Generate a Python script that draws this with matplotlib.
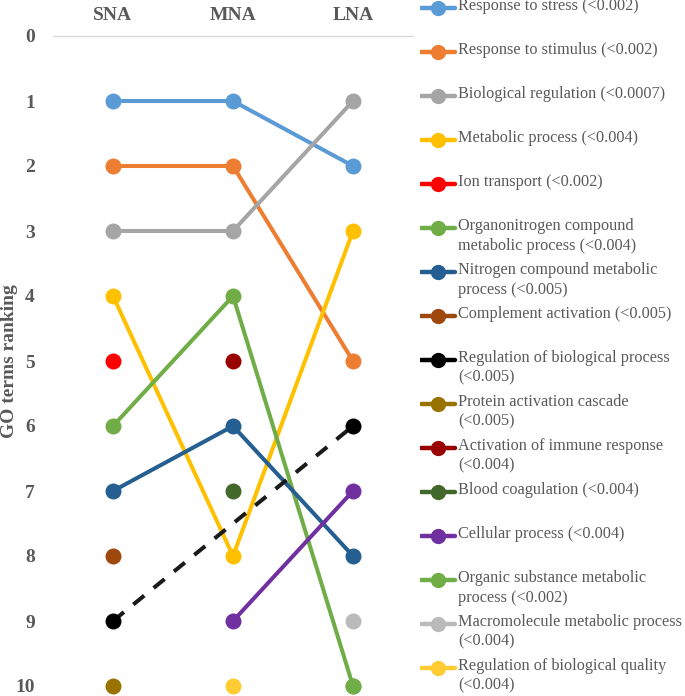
import numpy as np
import matplotlib
matplotlib.use('Agg')
import matplotlib.pyplot as plt

plt.rcParams['font.family'] = ['Liberation Serif', 'DejaVu Serif']

# ============================================
# Data: GO term ranking per group (nan = not ranked)
# ============================================
groups = ['SNA', 'MNA', 'LNA']
nan = np.nan

terms = [
    'Response to stress (<0.002)',
    'Response to stimulus (<0.002)',
    'Biological regulation (<0.0007)',
    'Metabolic process (<0.004)',
    'Ion transport (<0.002)',
    'Organonitrogen compound\nmetabolic process (<0.004)',
    'Nitrogen compound metabolic\nprocess (<0.005)',
    'Complement activation (<0.005)',
    'Regulation of biological process\n(<0.005)',
    'Protein activation cascade\n(<0.005)',
    'Activation of immune response\n(<0.004)',
    'Blood coagulation (<0.004)',
    'Cellular process (<0.004)',
    'Organic substance metabolic\nprocess (<0.002)',
    'Macromolecule metabolic process\n(<0.004)',
    'Regulation of biological quality\n(<0.004)',
]

ranks = [
    [1, 1, 2],
    [2, 2, 5],
    [3, 3, 1],
    [4, 8, 3],
    [5, nan, nan],
    [6, 4, 10],
    [7, 6, 8],
    [8, nan, nan],
    [9, nan, 6],
    [10, nan, nan],
    [nan, 5, nan],
    [nan, 7, nan],
    [nan, 9, 7],
    [nan, nan, 10],
    [nan, nan, 9],
    [nan, 10, nan],
]

colors = ['#5B9BD5', '#ED7D31', '#A5A5A5', '#FFC000', '#FF0000', '#70AD47',
          '#255E91', '#9E480E', '#000000', '#997300', '#990000', '#43682B',
          '#7030A0', '#70AD47', '#BABABA', '#FFCD33']
dashed = [8]

text_color = '#595959'

# ============================================
# Figure
# ============================================
fig = plt.figure(figsize=(6.85, 6.96), dpi=100)
ax = fig.add_axes([53 / 685, 1 - 686 / 696, 360 / 685, 650 / 696])

x = np.arange(len(groups))
for i, vals in enumerate(ranks):
    vals = np.array(vals, dtype=float)
    ok = ~np.isnan(vals)
    line_color = '#1A1A1A' if i in dashed else colors[i]
    ls = (0, (3.5, 3)) if i in dashed else '-'
    if ok.sum() > 1:
        ax.plot(x[ok], vals[ok], color=line_color, lw=2.9, ls=ls,
                solid_capstyle='round', clip_on=False, zorder=2)
    ax.plot(x[ok], vals[ok], 'o', color=colors[i], ms=11.5, mec='none',
            clip_on=False, zorder=3)

ax.set_xlim(-0.5, 2.5)
ax.set_ylim(10, 0)
ax.set_xticks(x)
ax.set_xticklabels(groups, fontsize=14, fontweight='bold', color=text_color)
ax.xaxis.tick_top()
ax.tick_params(axis='x', length=0, pad=9)
ax.set_yticks(range(0, 11))
ax.tick_params(axis='y', length=0, pad=13, labelsize=14, labelcolor=text_color)
for lbl in ax.get_yticklabels():
    lbl.set_fontweight('bold')
ax.set_ylabel('GO terms ranking', fontsize=14, fontweight='bold', color=text_color)
ax.yaxis.set_label_coords(-0.098, 0.5)

for s in ['left', 'right', 'bottom']:
    ax.spines[s].set_visible(False)
ax.spines['top'].set_color('#D9D9D9')
ax.spines['top'].set_linewidth(1.0)

# ============================================
# Legend (manual, evenly spaced rows)
# ============================================
lax = fig.add_axes([420 / 685, 0, 265 / 685, 1])
lax.set_xlim(0, 265)
lax.set_ylim(696, 0)
lax.axis('off')
for i, label in enumerate(terms):
    row = 8 + 44 * i
    lax.plot([1, 35], [row, row], color=colors[i], lw=3.2, solid_capstyle='round')
    lax.plot([18], [row], 'o', color=colors[i], ms=11, mec='none')
    lax.text(38, row - 9.5, label, fontsize=11.7, color=text_color,
             va='top', ha='left', linespacing=1.28)

fig.savefig('out.png', dpi=100)
plt.close(fig)
